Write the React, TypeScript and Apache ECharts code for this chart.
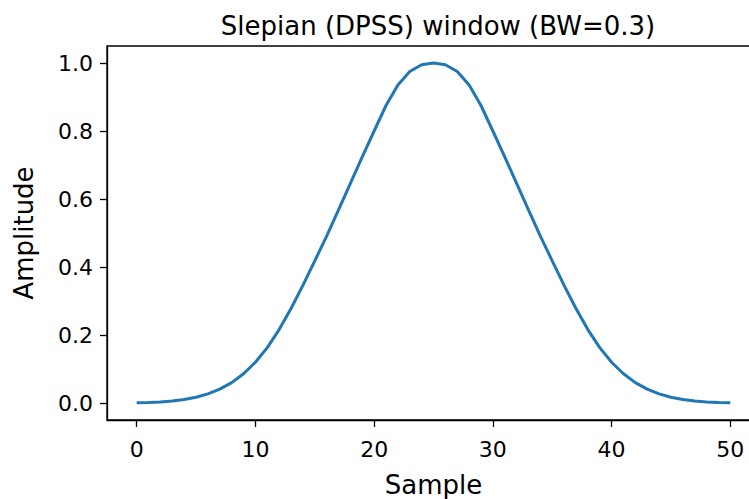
import React, { useEffect, useRef } from "react";
import * as echarts from "echarts";

const samples: number[] = Array.from({ length: 51 }, (_, i) => i);
const amplitude: number[] = [
  0.0005, 0.0015, 0.003, 0.006, 0.0105, 0.017, 0.027, 0.041, 0.060, 0.086,
  0.120, 0.163, 0.216, 0.278, 0.346, 0.418, 0.491, 0.568, 0.646, 0.724,
  0.800, 0.875, 0.935, 0.975, 0.995, 1.0, 0.995, 0.975, 0.935, 0.875,
  0.800, 0.724, 0.646, 0.568, 0.491, 0.418, 0.346, 0.278, 0.216, 0.163,
  0.120, 0.086, 0.060, 0.041, 0.027, 0.017, 0.0105, 0.006, 0.003, 0.0015,
  0.0005,
];
const xTicks: number[] = [0, 10, 20, 30, 40, 50];
const yTicks: number[] = [0, 0.2, 0.4, 0.6, 0.8, 1.0];

const FONT = "DejaVu Sans";

export default function App() {
  const ref = useRef<HTMLDivElement>(null);
  useEffect(() => {
    if (!ref.current) return;
    const chart = echarts.init(ref.current, undefined, { renderer: "svg" });
    chart.setOption({
      animation: false,
      backgroundColor: "#ffffff",
      title: {
        text: "Slepian (DPSS) window (BW=0.3)",
        left: 433,
        top: 8,
        textAlign: "center",
        textStyle: { fontFamily: FONT, fontSize: 26, fontWeight: "normal", color: "#000" },
      },
      grid: {
        left: 107,
        top: 46,
        right: -11,
        bottom: 79,
        outerBoundsMode: "none",
        containLabel: false,
        show: true,
        borderColor: "#000",
        borderWidth: 1.3,
      },
      xAxis: {
        type: "value",
        min: -2.5,
        max: 52.5,
        name: "Sample",
        nameLocation: "middle",
        nameGap: 52,
        nameTextStyle: { fontFamily: FONT, fontSize: 26, color: "#000" },
        axisLine: { show: true, onZero: false, lineStyle: { color: "#000", width: 1.3 } },
        axisTick: { show: true, inside: false, length: 7, customValues: xTicks, lineStyle: { color: "#000", width: 1.3 } },
        axisLabel: {
          customValues: xTicks,
          fontFamily: FONT,
          fontSize: 22,
          color: "#000",
          margin: 18,
        },
        splitLine: { show: false },
      },
      yAxis: {
        type: "value",
        min: -0.05,
        max: 1.05,
        name: "Amplitude",
        nameLocation: "middle",
        nameGap: 70,
        nameTextStyle: { fontFamily: FONT, fontSize: 26, color: "#000" },
        axisLine: { show: true, onZero: false, lineStyle: { color: "#000", width: 1.3 } },
        axisTick: { show: true, inside: false, length: 7, customValues: yTicks, lineStyle: { color: "#000", width: 1.3 } },
        axisLabel: {
          customValues: yTicks,
          formatter: (v: number) => v.toFixed(1),
          fontFamily: FONT,
          fontSize: 22,
          color: "#000",
          margin: 14,
        },
        splitLine: { show: false },
      },
      series: [
        {
          type: "line",
          data: samples.map((s, i) => [s, amplitude[i]]),
          showSymbol: false,
          lineStyle: { color: "#1f77b4", width: 3 },
          clip: false,
        },
      ],
    });
    return () => chart.dispose();
  }, []);
  return (
    <div
      ref={ref}
      style={{ position: "fixed", left: 0, top: 0, width: 749, height: 499, overflow: "hidden", background: "#fff" }}
    />
  );
}
